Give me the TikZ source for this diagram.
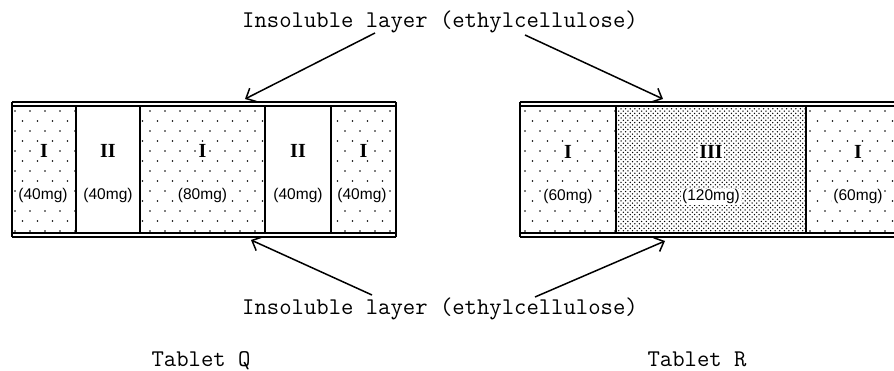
\documentclass[tikz,border=0pt]{standalone}
\usepackage{fontspec}
\setmainfont{Liberation Serif}
\newfontfamily\sansfnt{Liberation Sans}
\usetikzlibrary{patterns,arrows.meta}
\pgfdeclarepatternformonly{sparsedots}{\pgfqpoint{-1.5pt}{-1.5pt}}{\pgfqpoint{15pt}{20pt}}{\pgfqpoint{15pt}{20pt}}{%
  \pgfpathcircle{\pgfqpoint{0pt}{0pt}}{0.95pt}%
  \pgfpathcircle{\pgfqpoint{7.5pt}{10pt}}{0.95pt}%
  \pgfusepath{fill}}
\pgfdeclarepatternformonly{densedots}{\pgfqpoint{-1pt}{-1pt}}{\pgfqpoint{4.6pt}{4.6pt}}{\pgfqpoint{4.6pt}{4.6pt}}{%
  \pgfpathcircle{\pgfqpoint{0pt}{0pt}}{0.75pt}%
  \pgfpathcircle{\pgfqpoint{2.3pt}{2.3pt}}{0.75pt}%
  \pgfusepath{fill}}
\tikzset{
  sparse/.style={rectangle, inner sep=0pt, minimum height=127pt, draw=none, pattern=sparsedots},
  dense/.style={rectangle, inner sep=0pt, minimum height=127pt, draw=none, pattern=densedots},
  plain/.style={rectangle, inner sep=0pt, minimum height=127pt, draw=none, fill=white},
  edge/.style={line width=1.6pt},
  numeral/.style={font=\fontsize{20}{20}\selectfont\bfseries, inner sep=1pt, fill=white, anchor=base},
  dose/.style={font=\sansfnt\fontsize{15.5}{15.5}\selectfont, inner sep=1pt, fill=white, anchor=base},
  caption/.style={font=\ttfamily\fontsize{24}{24}\selectfont, inner sep=0pt, anchor=base},
  pointer/.style={line width=1.5pt, -{Straight Barb[length=8pt,width=15pt,line width=1.5pt]}}
}
\begin{document}
\begin{tikzpicture}[x=1pt,y=-1pt]
\useasboundingbox (0,0) rectangle (894,371);
\fill[white] (0,0) rectangle (894,371);
\clip (0,0) rectangle (894,371);

% ---------- Tablet Q ----------
\node[sparse, minimum width=64pt]  (q1) at (44,169.5) {};
\node[plain,  minimum width=64pt]  (q2) at (108,169.5) {};
\node[sparse, minimum width=125pt] (q3) at (202.5,169.5) {};
\node[plain,  minimum width=66pt]  (q4) at (298,169.5) {};
\node[sparse, minimum width=65pt]  (q5) at (363.5,169.5) {};
\draw[edge] (q1.north west) -- (q5.north east);
\draw[edge] (q1.south west) -- (q5.south east);
\draw[edge] ([yshift=4pt]q1.north west) -- ([yshift=4pt]q5.north east);
\draw[edge] ([yshift=-4pt]q1.south west) -- ([yshift=-4pt]q5.south east);
\draw[edge] ([yshift=4pt]q1.north west) -- ([yshift=-4pt]q1.south west);
\draw[edge] ([yshift=4pt]q5.north east) -- ([yshift=-4pt]q5.south east);
\draw[edge] (q1.north east) -- (q1.south east);
\draw[edge] (q2.north east) -- (q2.south east);
\draw[edge] (q3.north east) -- (q3.south east);
\draw[edge] (q4.north east) -- (q4.south east);

\node[numeral] (q1n) at (44,158) {I};
\node[numeral] (q2n) at (108,158) {II};
\node[numeral] (q3n) at (202.5,158) {I};
\node[numeral] (q4n) at (298,158) {II};
\node[numeral] (q5n) at (363.5,158) {I};
\node[dose] (q1d) at (43,200) {(40mg)};
\node[dose] (q2d) at (108,200) {(40mg)};
\node[dose] (q3d) at (202.5,200) {(80mg)};
\node[dose] (q4d) at (298,200) {(40mg)};
\node[dose] (q5d) at (362,200) {(40mg)};

% ---------- Tablet R ----------
\node[sparse, minimum width=96pt]  (r1) at (568,169.5) {};
\node[dense,  minimum width=190pt] (r2) at (711,169.5) {};
\node[sparse, minimum width=104pt] (r3) at (858,169.5) {};
\draw[edge] (r1.north west) -- (r3.north east);
\draw[edge] (r1.south west) -- (r3.south east);
\draw[edge] ([yshift=4pt]r1.north west) -- ([yshift=4pt]r3.north east);
\draw[edge] ([yshift=-4pt]r1.south west) -- ([yshift=-4pt]r3.south east);
\draw[edge] ([yshift=4pt]r1.north west) -- ([yshift=-4pt]r1.south west);
\draw[edge] (r1.north east) -- (r1.south east);
\draw[edge] (r2.north east) -- (r2.south east);

\node[numeral] (r1n) at (568,159) {I};
\node[numeral] (r2n) at (711,159) {III};
\node[numeral] (r3n) at (858,159) {I};
\node[dose] (r1d) at (568,201) {(60mg)};
\node[dose] (r2d) at (711,201) {(120mg)};
\node[dose] (r3d) at (858,201) {(60mg)};

% ---------- captions and pointers ----------
\node[caption] (top) at (440,28) {Insoluble layer (ethylcellulose)};
\node[caption] (bot) at (440,315) {Insoluble layer (ethylcellulose)};
\node[caption] (tq) at (201,366) {Tablet Q};
\node[caption] (tr) at (697,366) {Tablet R};

\coordinate (ta) at (375,33);
\coordinate (tb) at (525,35);
\coordinate (ba) at (372,295);
\coordinate (bb) at (535,297);
\coordinate (qtop) at (245,99);
\coordinate (rtop) at (663,99);
\coordinate (qbot) at (251,240);
\coordinate (rbot) at (665,241);
\draw[pointer] (ta) -- (qtop);
\draw[pointer] (tb) -- (rtop);
\draw[pointer] (ba) -- (qbot);
\draw[pointer] (bb) -- (rbot);
\end{tikzpicture}
\end{document}
